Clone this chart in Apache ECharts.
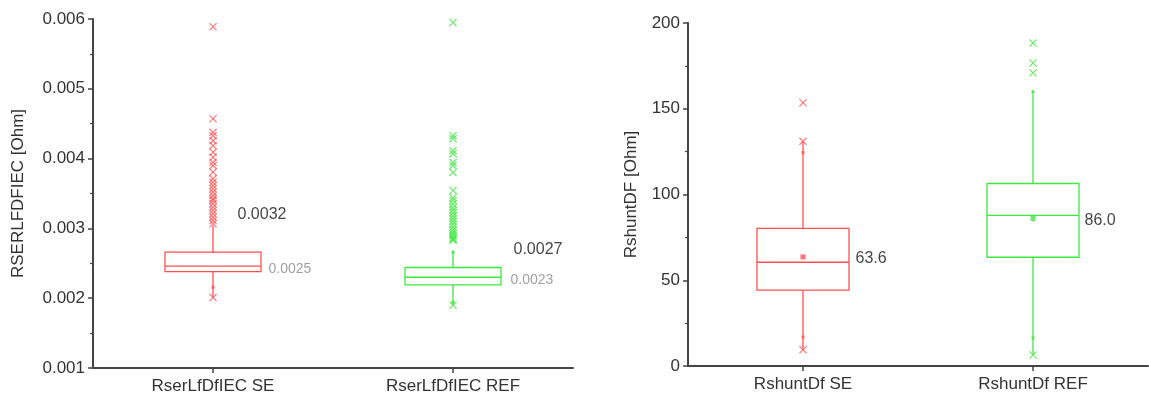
<!DOCTYPE html>
<html>
<head>
<meta charset="utf-8">
<script src="https://cdn.jsdelivr.net/npm/echarts@6/dist/echarts.min.js"></script>
<style>html,body{margin:0;padding:0;background:#fff}#c{width:1149px;height:399px}</style>
</head>
<body>
<div id="c"></div>
<script>
// ---------- data ----------
const leftCategories = ['RserLfDfIEC SE', 'RserLfDfIEC REF'];
const rightCategories = ['RshuntDf SE', 'RshuntDf REF'];

// [min(whisker), Q1, median, Q3, max(whisker)]
const leftBoxSE  = [0.00201, 0.00238, 0.00246, 0.00266, 0.00304];
const leftBoxREF = [0.00190, 0.00219, 0.00230, 0.00244, 0.00268];
const rightBoxSE  = [9.5, 44.2, 60.5, 80.2, 131.0];
const rightBoxREF = [6.4, 63.4, 87.8, 106.4, 160.0];

// outliers (crosses)
const leftOutSE = [0.00589, 0.00457, 0.004376, 0.004329, 0.004257, 0.004186, 0.00409, 0.004019,
  0.003947, 0.0039, 0.003804, 0.00371, 0.003661, 0.003614, 0.003567, 0.003519, 0.003471,
  0.003424, 0.0034, 0.003353, 0.003304, 0.003257, 0.00321, 0.003161, 0.003114, 0.003067, 0.00201];
const leftOutREF = [0.00595, 0.004329, 0.004286, 0.004114, 0.004071, 0.003943, 0.0039, 0.0038,
  0.003543, 0.00344, 0.0034, 0.00335, 0.0033, 0.00326, 0.00322, 0.00318, 0.00314, 0.0031,
  0.00306, 0.00302, 0.00298, 0.00295, 0.00292, 0.00289, 0.00286, 0.00284, 0.00283, 0.0019];
const rightOutSE = [153.5, 131.0, 9.5];
const rightOutREF = [188.4, 176.7, 171.0, 6.4];

// percentile dots
const leftDotSE = [0.002157];
const leftDotREF = [0.00266, 0.00194];
const rightDotSE = [124.4, 16.9];
const rightDotREF = [160.0, 16.3];

// means (right chart)
const rightMeans = [63.6, 86.0];

// value labels
const leftUpperLabels = [0.0032, 0.0027];
const leftMedianLabels = [leftBoxSE[2], leftBoxREF[2]];

// ---------- styles ----------
const RED = '#ff5050', GREEN = '#3fe83f';
const COLORS = [RED, GREEN];
const FONT = 'Liberation Sans, Arial, sans-serif';
const AX = '#444';
const CROSS = 'path://M0,1L1,0L5,4L9,0L10,1L6,5L10,9L9,10L5,6L1,10L0,9L4,5Z';

function boxRender(params, api) {
  const x = api.value(0);
  const color = COLORS[x];
  const w = api.size([1, 0])[0] * 0.4;
  const pMin = api.coord([x, api.value(1)]);
  const pQ1 = api.coord([x, api.value(2)]);
  const pMed = api.coord([x, api.value(3)]);
  const pQ3 = api.coord([x, api.value(4)]);
  const pMax = api.coord([x, api.value(5)]);
  const cx = pMed[0];
  const st = { stroke: color, lineWidth: 1.3, fill: null };
  return {
    type: 'group',
    children: [
      { type: 'rect', shape: { x: cx - w / 2, y: pQ3[1], width: w, height: pQ1[1] - pQ3[1] }, style: st },
      { type: 'line', shape: { x1: cx - w / 2, y1: pMed[1], x2: cx + w / 2, y2: pMed[1] }, style: st },
      { type: 'line', shape: { x1: cx, y1: pQ3[1], x2: cx, y2: pMax[1] }, style: st },
      { type: 'line', shape: { x1: cx, y1: pQ1[1], x2: cx, y2: pMin[1] }, style: st }
    ]
  };
}

function boxData(boxes) {
  return boxes.map((b, i) => [i].concat(b));
}
function ptData(arrs) {
  const out = [];
  arrs.forEach((arr, i) => arr.forEach(v => out.push({ value: [i, v], itemStyle: { color: COLORS[i] } })));
  return out;
}

function xAxisCfg(gi, cats) {
  return {
    type: 'category', gridIndex: gi, data: cats, boundaryGap: true,
    axisLine: { show: true, lineStyle: { color: AX, width: 2 } },
    axisTick: { show: true, alignWithLabel: true, length: 5, lineStyle: { color: AX, width: 1.5 } },
    axisLabel: { color: '#333', fontSize: 17, fontFamily: FONT, margin: 10 },
    splitLine: { show: false }
  };
}
function yAxisCfg(gi, min, max, interval, dec, name, gap) {
  return {
    type: 'value', gridIndex: gi, min: min, max: max, interval: interval,
    name: name, nameLocation: 'middle', nameGap: gap,
    nameTextStyle: { color: '#333', fontSize: 17, fontFamily: FONT },
    axisLine: { show: true, lineStyle: { color: AX, width: 2 } },
    axisTick: { show: true, length: 5, lineStyle: { color: AX, width: 1.5 } },
    minorTick: { show: true, splitNumber: 2, length: 3, lineStyle: { color: AX, width: 1.2 } },
    axisLabel: { color: '#333', fontSize: 17, fontFamily: FONT, margin: 8,
      formatter: v => v.toFixed(dec) },
    splitLine: { show: false }, minorSplitLine: { show: false }
  };
}

function labelSeries(xi, yi, vals, dists, dy, color, size, dec) {
  return {
    type: 'scatter', xAxisIndex: xi, yAxisIndex: yi, symbolSize: 1, z: 5,
    itemStyle: { color: 'rgba(0,0,0,0)' },
    data: vals.map((v, i) => ({
      value: [i, v],
      label: { show: true, position: 'right', distance: dists[i], offset: [0, dy],
        formatter: () => v.toFixed(dec), color: color, fontSize: size, fontFamily: FONT }
    }))
  };
}

const chart = echarts.init(document.getElementById('c'), null, { renderer: 'canvas' });
chart.setOption({
  animation: false,
  backgroundColor: '#fff',
  grid: [
    { left: 93, top: 19, width: 480, bottom: 31 },
    { left: 688, top: 23, width: 460, bottom: 33 }
  ],
  xAxis: [xAxisCfg(0, leftCategories), xAxisCfg(1, rightCategories)],
  yAxis: [
    yAxisCfg(0, 0.001, 0.006, 0.001, 3, 'RSERLFDFIEC [Ohm]', 66),
    yAxisCfg(1, 0, 200, 50, 0, 'RshuntDF [Ohm]', 48)
  ],
  series: [
    { type: 'custom', xAxisIndex: 0, yAxisIndex: 0, renderItem: boxRender,
      data: boxData([leftBoxSE, leftBoxREF]), z: 2 },
    { type: 'custom', xAxisIndex: 1, yAxisIndex: 1, renderItem: boxRender,
      data: boxData([rightBoxSE, rightBoxREF]), z: 2 },
    { type: 'scatter', xAxisIndex: 0, yAxisIndex: 0, symbol: CROSS, symbolSize: 8, z: 3,
      data: ptData([leftOutSE, leftOutREF]) },
    { type: 'scatter', xAxisIndex: 1, yAxisIndex: 1, symbol: CROSS, symbolSize: 8, z: 3,
      data: ptData([rightOutSE, rightOutREF]) },
    { type: 'scatter', xAxisIndex: 0, yAxisIndex: 0, symbol: 'rect', symbolSize: 3, z: 3,
      data: ptData([leftDotSE, leftDotREF]) },
    { type: 'scatter', xAxisIndex: 1, yAxisIndex: 1, symbol: 'rect', symbolSize: 3, z: 3,
      data: ptData([rightDotSE, rightDotREF]) },
    { type: 'scatter', xAxisIndex: 1, yAxisIndex: 1, symbol: 'rect', symbolSize: 5, z: 3,
      data: ptData([[rightMeans[0]], [rightMeans[1]]]) },
    labelSeries(0, 0, leftUpperLabels, [24, 60], 0, '#111', 16, 4),
    labelSeries(0, 0, leftMedianLabels, [55, 57], 3, '#888', 14, 4),
    labelSeries(1, 1, rightMeans, [52, 51], 2, '#111', 16, 1)
  ]
});
</script>
</body>
</html>
